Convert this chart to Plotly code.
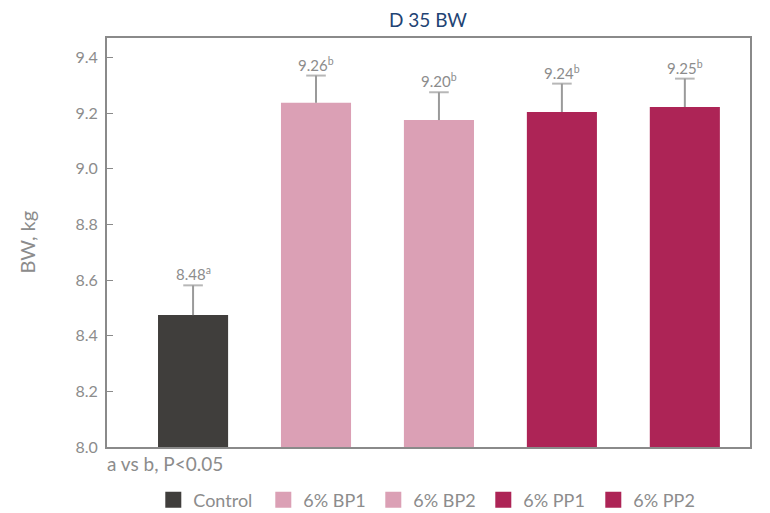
import plotly.graph_objects as go

groups = ["Control", "6% BP1", "6% BP2", "6% PP1", "6% PP2"]
values = [8.474, 9.237, 9.175, 9.204, 9.222]
errors = [0.107, 0.098, 0.100, 0.102, 0.102]
labels = ["8.48", "9.26", "9.20", "9.24", "9.25"]
letters = ["a", "b", "b", "b", "b"]
colors = ["#403e3c", "#dba0b5", "#dba0b5", "#ad2456", "#ad2456"]

FONT = "Lato, 'Open Sans', sans-serif"
GREY = "#8c8c8c"
AXIS = "#8a8a8a"

fig = go.Figure()
for i, g in enumerate(groups):
    fig.add_trace(go.Bar(
        x=[i], y=[values[i] - 8.0], base=8.0, name=g, width=0.57,
        marker=dict(color=colors[i], line=dict(width=0)),
        showlegend=False,
    ))
    fig.add_annotation(x=i, y=values[i] + errors[i], xref="x", yref="y",
                       text=f"{labels[i]}<sup>{letters[i]}</sup>", showarrow=False,
                       yanchor="bottom", yshift=0,
                       font=dict(family=FONT, size=15, color=GREY))

# upward-only error bars (stem + top cap)
ex, ey, es = [], [], []
for i in range(len(groups)):
    ex += [i, i, None]
    ey += [values[i], values[i] + errors[i], None]
    es += [0, 14, 0]
fig.add_trace(go.Scatter(
    x=ex, y=ey, mode="lines+markers", showlegend=False, hoverinfo="skip",
    line=dict(color="#9a9a9a", width=2),
    marker=dict(symbol="line-ew", size=es, line=dict(color="#9a9a9a", width=2)),
))

# legend entries
for i, g in enumerate(groups):
    fig.add_trace(go.Scatter(
        x=[None], y=[None], mode="markers", name=g,
        marker=dict(symbol="square", size=16, color=colors[i]),
    ))

fig.add_annotation(x=0, y=-0.04, xref="paper", yref="paper", text="a vs b, P<0.05",
                   showarrow=False, xanchor="left", yanchor="middle", xshift=-2,
                   font=dict(family=FONT, size=19, color=GREY))
fig.add_annotation(x=0, y=0.5, xref="paper", yref="paper", xshift=-81, text="BW, kg",
                   textangle=-90, showarrow=False, xanchor="center", yanchor="middle",
                   font=dict(family=FONT, size=20, color=GREY))

fig.update_layout(
    width=762, height=505,
    margin=dict(l=99, r=20, t=30, b=66, autoexpand=False),
    paper_bgcolor="white", plot_bgcolor="white",
    title=dict(text="D 35 BW", x=(428 - 8) / 762, xanchor="center", y=1 - 12 / 505,
               yanchor="middle", font=dict(family=FONT, size=19, color="#1f4474")),
    showlegend=True,
    legend=dict(orientation="h", x=0.072, xanchor="left", y=-0.13, yanchor="middle",
                font=dict(family=FONT, size=18, color=GREY), traceorder="normal",
                entrywidth=65, entrywidthmode="pixels", itemsizing="trace",
                bgcolor="rgba(0,0,0,0)"),
    font=dict(family=FONT, color=GREY),
)
fig.update_xaxes(range=[-0.70, 4.53], showticklabels=False, showgrid=False, zeroline=False,
                 showline=True, linecolor=AXIS, linewidth=2, mirror=True, ticks="",
                 automargin=False)
fig.update_yaxes(range=[8.0, 9.47], tickvals=[8.0, 8.2, 8.4, 8.6, 8.8, 9.0, 9.2, 9.4],
                 tickformat=".1f", showgrid=False, zeroline=False,
                 showline=True, linecolor=AXIS, linewidth=2, mirror=True,
                 ticks="inside", ticklen=6, tickcolor=AXIS, tickwidth=1,
                 ticklabelstandoff=4,
                 tickfont=dict(family=FONT, size=16, color=GREY), automargin=False)

fig.write_html("out.html")
